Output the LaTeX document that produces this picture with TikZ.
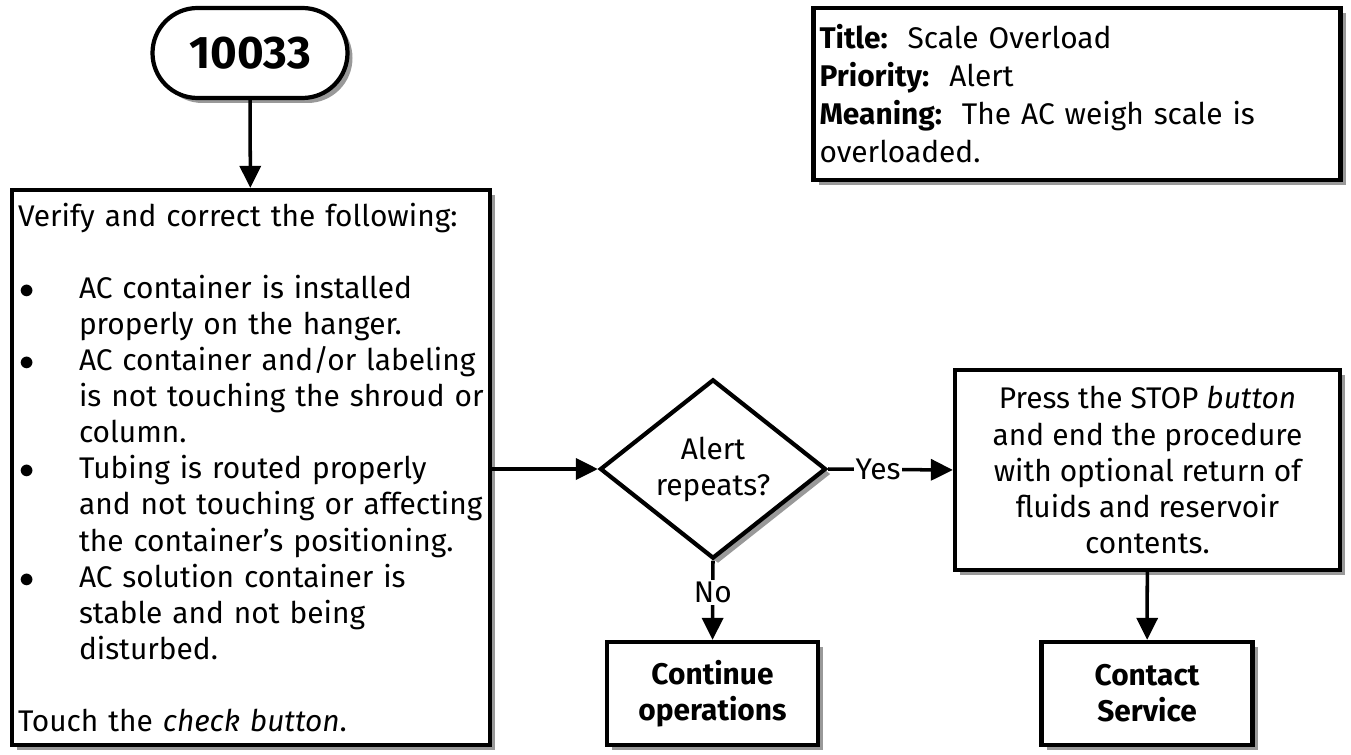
\documentclass[tikz,border=0pt]{standalone}
\usepackage{fontspec}
\setmainfont{Fira Sans}
\usetikzlibrary{arrows.meta,positioning,shapes.geometric,shadows}

% bullet rows for the checklist box
\newcommand{\itm}{\makebox[1.22cm][l]{\hspace{0.02cm}$\bullet$}}
\newcommand{\cnt}{\hspace*{1.22cm}}

\begin{document}
\begin{tikzpicture}[>={Triangle[length=0.44cm,width=0.42cm]},
    font=\fontsize{17}{20.5}\selectfont,
    boxshadow/.style={drop shadow={shadow xshift=0.1cm,shadow yshift=-0.1cm,
        fill=black!40,opacity=1}},
    box/.style={draw,fill=white,line width=2.4pt,boxshadow},
    terminal/.style={box,rounded corners=0.9cm,minimum width=3.9cm,
        minimum height=1.8cm,font=\fontsize{26}{30}\selectfont\bfseries},
    process/.style={box,inner sep=0.12cm},
    decision/.style={box,diamond,minimum width=4.52cm,minimum height=3.5cm,
        inner sep=0pt,align=center},
    endbox/.style={box,minimum width=4.22cm,minimum height=2.06cm,align=center,
        font=\fontsize{17}{20.5}\selectfont\bfseries},
    link/.style={->,line width=2pt}]

    \useasboundingbox (0,0) rectangle (27.02,-15.1);

    \node[terminal] (start) at (5.0,-1.06) {10033};

    \node[process, minimum width=9.56cm, minimum height=11.1cm, inner xsep=0.12cm,
          text width=9.32cm, align=left] (verify) at (5.02,-9.35)
        {\hyphenpenalty=10000
         Verify and correct the following:\\[20.5pt]
         \itm AC container is installed\\
         \cnt properly on the hanger.\\
         \itm AC container and/or labeling\\
         \cnt is not touching the shroud or\\
         \cnt column.\\
         \itm Tubing is routed properly\\
         \cnt and not touching or affecting\\
         \cnt the container's positioning.\\
         \itm AC solution container is\\
         \cnt stable and not being\\
         \cnt disturbed.\\[20.5pt]
         Touch the \textit{check button}.};

    \node[decision] (repeat) at (14.26,-9.38) {Alert\\repeats?};

    \node[process, minimum width=7.7cm, minimum height=4.0cm, align=center]
        (stop) at (22.95,-9.4)
        {Press the STOP \textit{button}\\
         and end the procedure\\
         with optional return of\\
         fluids and reservoir\\
         contents.};

    \node[endbox] (cont) at (14.25,-13.87) {Continue\\operations};
    \node[endbox] (service) at (22.94,-13.87) {Contact\\Service};

    \node[process, minimum width=10.52cm, minimum height=3.44cm,
          text width=10.3cm, align=left,
          font=\fontsize{17}{21.6}\selectfont] (info) at (21.54,-1.88)
        {\textbf{Title:}\ \ Scale Overload\\
         \textbf{Priority:}\ \ Alert\\
         \textbf{Meaning:}\ \ The AC weigh scale is\\
         overloaded.};

    \draw[link] (start) -- (verify);
    \draw[link] (verify.east |- repeat.west) -- (repeat.west);
    \draw[link] (repeat.east) -- node[pos=0.4,fill=white,inner sep=1pt] {Yes} (stop.west);
    \draw[link] (repeat.south) -- node[pos=0.4,fill=white,inner sep=1pt] {No} (cont.north);
    \draw[link] (stop) -- (service);
\end{tikzpicture}
\end{document}
